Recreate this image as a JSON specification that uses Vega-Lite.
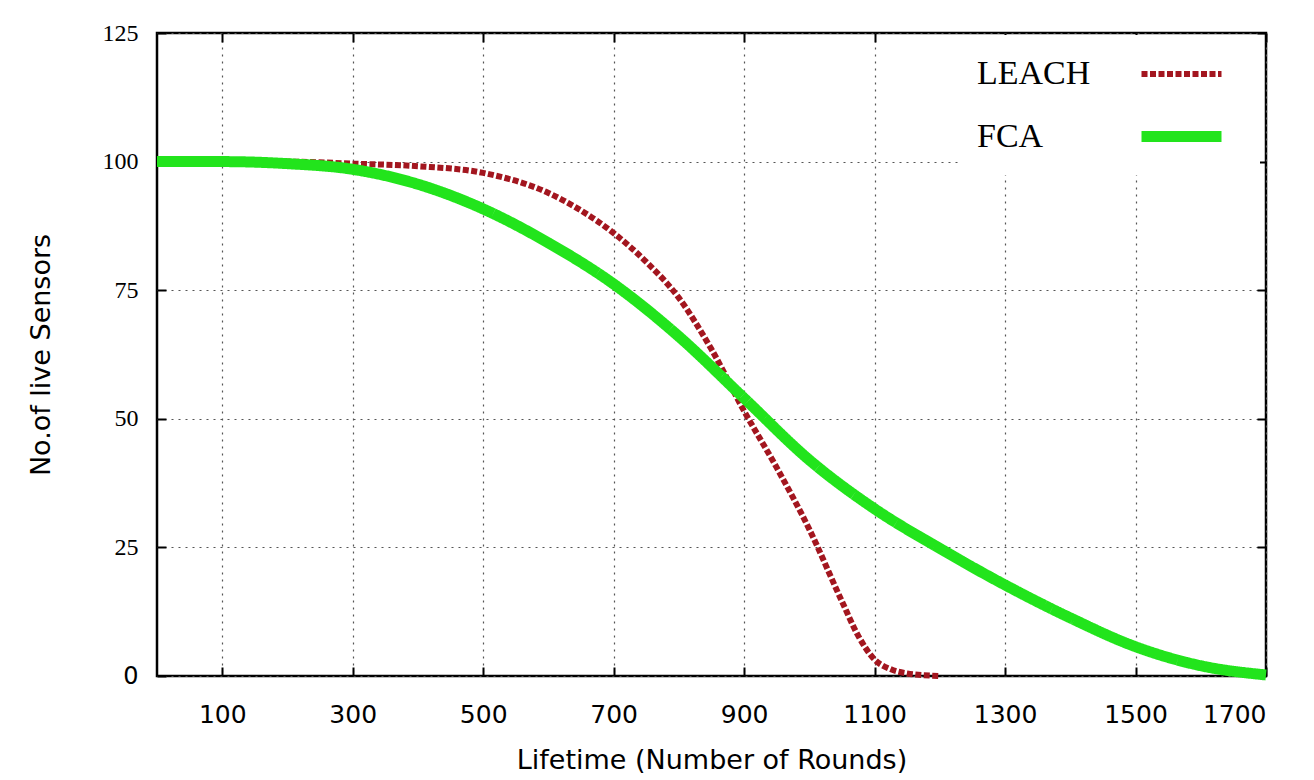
{
  "$schema": "https://vega.github.io/schema/vega-lite/v6.json",
  "autosize": "none",
  "width": 1109,
  "height": 643,
  "padding": {"left": 157, "top": 33, "right": 48, "bottom": 104},
  "background": "white",
  "config": {
    "view": {"stroke": "black", "strokeWidth": 2.5},
    "axis": {
      "domain": false,
      "tickColor": "black",
      "tickWidth": 2,
      "tickSize": -9,
      "labelColor": "black",
      "titleColor": "black",
      "titleFontWeight": "normal",
      "gridColor": "#555555",
      "gridDash": [2, 5],
      "gridWidth": 1.2
    }
  },
  "data": {
    "values": [
      {"protocol": "LEACH", "rounds": 0, "sensors": 100},
      {"protocol": "LEACH", "rounds": 100, "sensors": 100},
      {"protocol": "LEACH", "rounds": 200, "sensors": 100},
      {"protocol": "LEACH", "rounds": 300, "sensors": 99.6},
      {"protocol": "LEACH", "rounds": 400, "sensors": 99.1},
      {"protocol": "LEACH", "rounds": 500, "sensors": 97.8},
      {"protocol": "LEACH", "rounds": 600, "sensors": 93.9},
      {"protocol": "LEACH", "rounds": 650, "sensors": 90.5},
      {"protocol": "LEACH", "rounds": 700, "sensors": 86.1},
      {"protocol": "LEACH", "rounds": 750, "sensors": 80.5},
      {"protocol": "LEACH", "rounds": 800, "sensors": 73.5},
      {"protocol": "LEACH", "rounds": 850, "sensors": 63.5},
      {"protocol": "LEACH", "rounds": 900, "sensors": 51.5},
      {"protocol": "LEACH", "rounds": 950, "sensors": 40.5},
      {"protocol": "LEACH", "rounds": 1000, "sensors": 28.5},
      {"protocol": "LEACH", "rounds": 1050, "sensors": 14.5},
      {"protocol": "LEACH", "rounds": 1075, "sensors": 7.8},
      {"protocol": "LEACH", "rounds": 1100, "sensors": 3.2},
      {"protocol": "LEACH", "rounds": 1125, "sensors": 1.3},
      {"protocol": "LEACH", "rounds": 1150, "sensors": 0.5},
      {"protocol": "LEACH", "rounds": 1200, "sensors": 0},
      {"protocol": "FCA", "rounds": 0, "sensors": 100},
      {"protocol": "FCA", "rounds": 100, "sensors": 100},
      {"protocol": "FCA", "rounds": 200, "sensors": 99.6},
      {"protocol": "FCA", "rounds": 300, "sensors": 98.5},
      {"protocol": "FCA", "rounds": 400, "sensors": 95.6},
      {"protocol": "FCA", "rounds": 500, "sensors": 90.8},
      {"protocol": "FCA", "rounds": 600, "sensors": 84.2},
      {"protocol": "FCA", "rounds": 700, "sensors": 76.2},
      {"protocol": "FCA", "rounds": 800, "sensors": 66},
      {"protocol": "FCA", "rounds": 900, "sensors": 54},
      {"protocol": "FCA", "rounds": 1000, "sensors": 42},
      {"protocol": "FCA", "rounds": 1100, "sensors": 32.5},
      {"protocol": "FCA", "rounds": 1200, "sensors": 24.8},
      {"protocol": "FCA", "rounds": 1300, "sensors": 17.7},
      {"protocol": "FCA", "rounds": 1400, "sensors": 11.3},
      {"protocol": "FCA", "rounds": 1500, "sensors": 5.7},
      {"protocol": "FCA", "rounds": 1600, "sensors": 2},
      {"protocol": "FCA", "rounds": 1700, "sensors": 0.2}
    ]
  },
  "layer": [
    {
      "mark": {"type": "line", "interpolate": "monotone", "strokeCap": "butt"},
      "encoding": {
        "x": {
          "field": "rounds",
          "type": "quantitative",
          "scale": {"domain": [0, 1700], "nice": false, "zero": false},
          "axis": {
            "orient": "bottom",
            "values": [100, 300, 500, 700, 900, 1100, 1300, 1500, 1700],
            "format": "d",
            "title": "Lifetime (Number of Rounds)",
            "labelFont": "DejaVu Sans",
            "labelFontSize": 25,
            "labelPadding": 35,
            "titleFont": "DejaVu Sans",
            "titleFontSize": 27,
            "titlePadding": 20
          }
        },
        "y": {
          "field": "sensors",
          "type": "quantitative",
          "scale": {"domain": [0, 125], "nice": false},
          "axis": {
            "orient": "left",
            "values": [0, 25, 50, 75, 100, 125],
            "title": "No.of live Sensors",
            "labelFont": {"condition": {"test": "datum.value === 0", "value": "DejaVu Sans"}, "value": "Liberation Serif"},
            "labelFontSize": 24,
            "labelPadding": 28,
            "titleFont": "DejaVu Sans",
            "titleFontSize": 27,
            "titlePadding": 47
          }
        },
        "color": {
          "field": "protocol",
          "type": "nominal",
          "scale": {"domain": ["LEACH", "FCA"], "range": ["#a3161f", "#22e41c"]},
          "legend": {
            "title": null,
            "orient": "none",
            "legendX": 804,
            "legendY": 2,
            "symbolType": "M-2,0H2",
            "symbolSize": 1600,
            "symbolOffset": 179,
            "labelFont": "Liberation Serif",
            "labelFontSize": 34,
            "labelColor": "black",
            "labelAlign": "left",
            "labelOffset": -230,
            "labelLimit": 0,
            "rowPadding": 20,
            "fillColor": "white",
            "padding": 16
          }
        },
        "strokeDash": {
          "field": "protocol",
          "type": "nominal",
          "scale": {"domain": ["LEACH", "FCA"], "range": [[6, 2.5], [1, 0]]}
        },
        "strokeWidth": {
          "field": "protocol",
          "type": "nominal",
          "scale": {"domain": ["LEACH", "FCA"], "range": [6, 11]}
        }
      }
    },
    {
      "mark": {"type": "line", "opacity": 0},
      "encoding": {
        "x": {
          "field": "rounds",
          "type": "quantitative",
          "axis": {"orient": "top", "values": [100, 300, 500, 700, 900, 1100, 1300, 1500, 1700], "labels": false, "title": null, "grid": false}
        },
        "y": {
          "field": "sensors",
          "type": "quantitative",
          "axis": {"orient": "right", "values": [0, 25, 50, 75, 100, 125], "labels": false, "title": null, "grid": false}
        },
        "detail": {"field": "protocol"}
      }
    }
  ],
  "resolve": {"axis": {"x": "independent", "y": "independent"}}
}
